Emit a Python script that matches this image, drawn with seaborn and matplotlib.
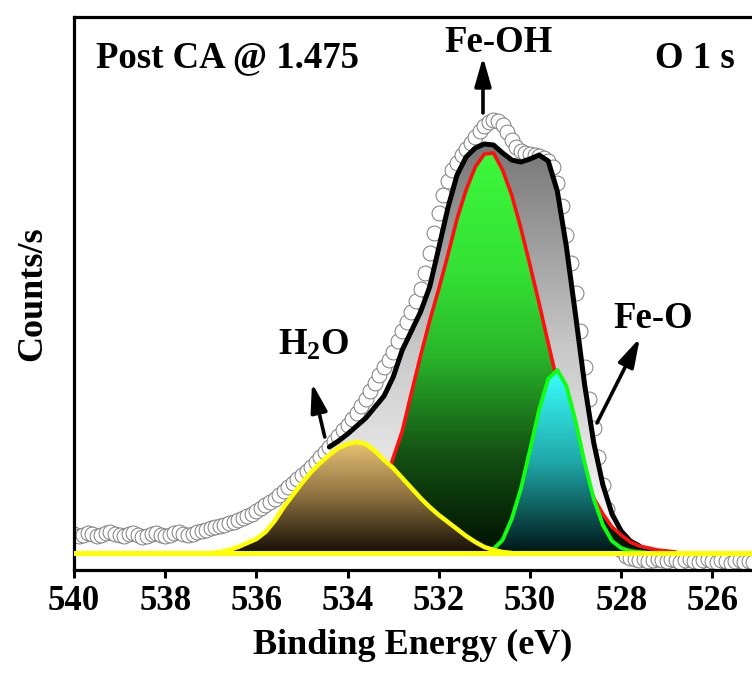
import numpy as np
import matplotlib
matplotlib.use('Agg')
import matplotlib.pyplot as plt
import seaborn as sns
from matplotlib.colors import LinearSegmentedColormap

# measured spectrum (binding energy in eV, counts above the baseline)
be_data = np.round(np.linspace(540.0, 525.1, 150), 1)
counts = [19, 17, 18, 20, 19, 17, 18, 20, 21, 19,
          18, 17, 19, 20, 18, 16, 17, 19, 20, 18,
          17, 18, 20, 21, 19, 18, 19, 21, 22, 23,
          25, 26, 27, 28, 30, 31, 33, 35, 37, 39,
          42, 45, 48, 51, 54, 58, 62, 66, 70, 74,
          78, 82, 86, 91, 96, 101, 106, 112, 117, 123,
          128, 134, 140, 147, 154, 162, 170, 178, 186, 193,
          201, 212, 222, 231, 241, 252, 264, 280, 300, 320,
          340, 358, 372, 383, 390, 398, 404, 410, 416, 422,
          427, 431, 433, 432, 428, 421, 413, 406, 402, 400,
          399, 398, 397, 395, 392, 386, 370, 347, 318, 290,
          260, 222, 186, 154, 125, 96, 68, 44, 26, 12,
          3, -3, -5, -6, -7, -6, -8, -7, -6, -7,
          -8, -6, -7, -9, -7, -6, -8, -9, -7, -6,
          -8, -9, -7, -8, -10, -8, -7, -9, -8, -9]

# fitted components
be_fit = np.round(np.linspace(537.0, 526.8, 52), 1)
h2o = [0, 1, 3, 6, 10, 14, 21, 32, 46, 58, 70, 81, 90, 98, 105, 109, 111,
       109, 102, 93, 85, 75, 65, 55, 46, 38, 31, 24, 17, 11, 6, 3, 1, 0] + [0] * 18
fe_oh = [0] * 11 + [3, 5,
         7, 11, 16, 23, 34, 48, 68, 95, 122, 160, 197, 232, 264, 298, 334, 363,
         386, 399, 400, 383, 358, 325, 288, 250, 210, 171, 135, 103, 77, 55, 39,
         26, 18, 11, 7, 5, 3, 2, 1]
fe_o = [0] * 30 + [1, 4, 13, 34, 64, 103, 143, 174, 183, 167, 132, 90, 54, 28,
                   12, 5, 2, 1, 0, 0, 0, 0]

# cumulative fit envelope
be_env = np.round(np.linspace(534.4, 527.6, 35), 1)
envelope = [106, 112, 119, 127, 135, 146, 157, 176, 203, 222, 241, 266, 305,
            345, 378, 396, 405, 409, 408, 400, 393, 391, 394, 398, 392, 362,
            306, 238, 168, 110, 68, 39, 22, 12, 7]

sns.set_theme(style='ticks')
plt.rcParams['font.family'] = ['Liberation Serif', 'DejaVu Serif']
plt.rcParams['font.weight'] = 'bold'
plt.rcParams['text.color'] = 'black'
plt.rcParams['axes.labelcolor'] = 'black'
plt.rcParams['xtick.color'] = 'black'
plt.rcParams['xtick.labelcolor'] = 'black'
plt.rcParams['mathtext.fontset'] = 'custom'
plt.rcParams['mathtext.bf'] = 'Liberation Serif:bold'
plt.rcParams['mathtext.rm'] = 'Liberation Serif:bold'
plt.rcParams['mathtext.default'] = 'bf'


def gradient_area(ax, x, y, stops, line_color, lw, z):
    x = np.asarray(x)
    y = np.asarray(y, dtype=float)
    nz = np.nonzero(y)[0]
    sl = slice(max(nz[0] - 1, 0), nz[-1] + 2)
    x, y = x[sl], y[sl]
    poly = ax.fill_between(x, y, 0, facecolor='none', edgecolor='none', zorder=z)
    cmap = LinearSegmentedColormap.from_list('grad', stops)
    grad = np.linspace(0, 1, 256).reshape(-1, 1)
    im = ax.imshow(grad, cmap=cmap, aspect='auto', origin='upper',
                   extent=(x.min(), x.max(), 0, y.max()),
                   interpolation='bilinear', zorder=z)
    im.set_clip_path(poly.get_paths()[0], transform=ax.transData)
    sns.lineplot(x=x, y=y, color=line_color, lw=lw, ax=ax, zorder=z + 0.5,
                 solid_capstyle='round')


fig = plt.figure(figsize=(7.52, 6.84), dpi=100)
ax = fig.add_axes([74 / 752, 114 / 684, 678 / 752, 553 / 684])

sns.scatterplot(x=be_data, y=counts, marker='o', s=115, facecolor='white',
                edgecolor='#7a7a7a', linewidth=0.7, zorder=2, ax=ax)

gradient_area(ax, be_env, envelope, ['#777777', '#c8c8c8', '#ffffff'], 'black', 3.6, 3)
gradient_area(ax, be_fit, fe_oh,
              [(0, '#3cf83c'), (0.3, '#34e034'), (0.5, '#2ab82a'),
               (0.75, '#145214'), (1.0, '#001000')], '#ff1010', 2.6, 5)
gradient_area(ax, be_fit, fe_o, ['#3affff', '#20a8a8', '#001616'], '#10ff10', 2.8, 7)
gradient_area(ax, be_fit, h2o, ['#e8c274', '#8a6e3e', '#140e06'], '#ffff00', 3.2, 9)
ax.axhline(0, color='#ffff00', lw=3.6, zorder=11)

ax.set_xlim(540, 525.13)
ax.set_ylim(-17, 536)
ax.set_xticks([540, 538, 536, 534, 532, 530, 528, 526])
ax.set_yticks([])
ax.tick_params(axis='x', direction='out', length=6, width=2.2, pad=5,
               labelsize=25, color='black', labelcolor='black')
for lab in ax.get_xticklabels():
    lab.set_fontweight('bold')
for side in ['left', 'bottom', 'top']:
    ax.spines[side].set_linewidth(2.3)
    ax.spines[side].set_color('black')
ax.spines['right'].set_visible(False)
ax.set_xlabel('Binding Energy (eV)', fontsize=26, fontweight='bold', labelpad=8)
ax.set_ylabel('Counts/s', fontsize=26, fontweight='bold', labelpad=18)

txt = dict(fontsize=26.5, fontweight='bold', color='black', zorder=12)
ax.text(539.52, 495, 'Post CA @ 1.475', ha='left', va='center', **txt)
ax.text(526.38, 495, 'O 1 s', ha='center', va='center', **txt)
ax.text(530.70, 511, 'Fe-OH', ha='center', va='center', **txt)
ax.text(527.30, 235, 'Fe-O', ha='center', va='center', **txt)
ax.text(534.74, 208, 'H$_2$O', ha='center', va='center', **txt)

arrow = dict(arrowstyle='-|>,head_length=0.7,head_width=0.2', lw=2.6,
             color='black', shrinkA=0, shrinkB=0, mutation_scale=25)
ax.annotate('', xy=(531.03, 496), xytext=(531.03, 440), arrowprops=arrow, zorder=12)
ax.annotate('', xy=(527.59, 215), xytext=(528.53, 130), arrowprops=arrow, zorder=12)
ax.annotate('', xy=(534.78, 170), xytext=(534.50, 116), arrowprops=arrow, zorder=12)

fig.savefig('out.png', dpi=100)
